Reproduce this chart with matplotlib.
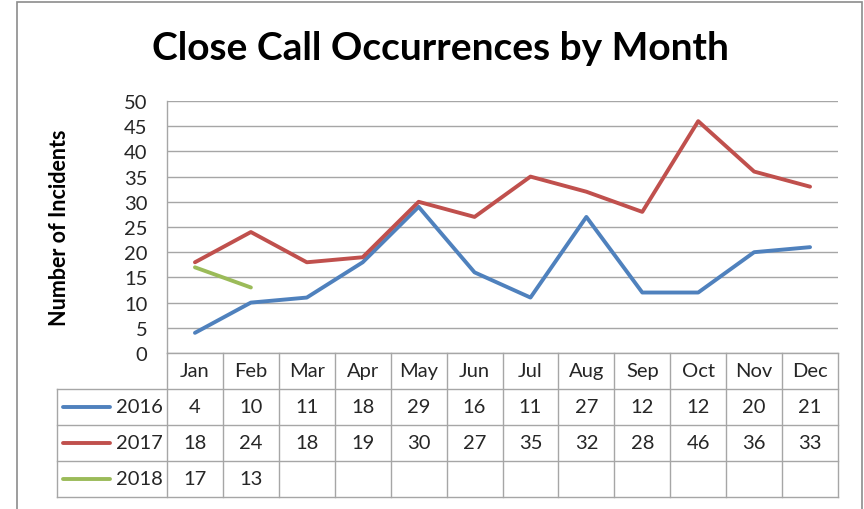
import matplotlib
matplotlib.use("Agg")
import matplotlib.pyplot as plt
import matplotlib.transforms as mtransforms
from matplotlib.patches import Rectangle

plt.rcParams['font.family'] = ['Lato', 'DejaVu Sans']

months = ['Jan', 'Feb', 'Mar', 'Apr', 'May', 'Jun', 'Jul', 'Aug', 'Sep', 'Oct', 'Nov', 'Dec']
years = ['2016', '2017', '2018']
v2016 = [4, 10, 11, 18, 29, 16, 11, 27, 12, 12, 20, 21]
v2017 = [18, 24, 18, 19, 30, 27, 35, 32, 28, 46, 36, 33]
v2018 = [17, 13]
colores = ['#4F81BD', '#C0504D', '#9BBB59']

W, H = 864, 510
fig = plt.figure(figsize=(W / 100, H / 100), dpi=100)

# marco exterior del grafico
fig.patches.append(Rectangle((17 / W, -0.05), (862 - 17) / W, 1.05 - 3 / H,
                             transform=fig.transFigure, fill=False,
                             edgecolor='#8C8C8C', linewidth=1.2))

ax = fig.add_axes([167 / W, 1 - 354 / H, (838 - 167) / W, (354 - 102) / H])

serie = [v2016, v2017, v2018]
for vals, c, y in zip(serie, colores, years):
    ax.plot(range(len(vals)), vals, color=c, linewidth=2.8, label=y,
            solid_capstyle='round', solid_joinstyle='round')

ax.set_xlim(-0.5, 11.5)
ax.set_ylim(0, 50)
ax.set_yticks(range(0, 51, 5))
ax.set_xticks([])
ax.yaxis.grid(True, color='#A6A6A6', linewidth=1)
ax.set_axisbelow(True)
for s in ['top', 'right']:
    ax.spines[s].set_visible(False)
for s in ['left', 'bottom']:
    ax.spines[s].set_color('#A6A6A6')
    ax.spines[s].set_linewidth(1)
ax.tick_params(axis='y', length=0, pad=14, labelsize=14.5, labelcolor='#262626')

ax.set_ylabel('Number of Incidents', fontsize=15.5, fontweight='bold')
ax.yaxis.set_label_coords(-0.1446, 0.5)

fig.text(440 / W, 1 - 48 / H, 'Close Call Occurrences by Month',
         fontsize=28, fontweight='bold', ha='center', va='center')

# tabla de datos bajo el eje
trans = mtransforms.blended_transform_factory(ax.transData, ax.transAxes)
h = 36 / 252
xl = -2.47
lc = '#A6A6A6'
for k in range(13):
    ax.plot([-0.5 + k, -0.5 + k], [0, -4 * h], color=lc, lw=1, transform=trans, clip_on=False)
ax.plot([xl, xl], [-h, -4 * h], color=lc, lw=1, transform=trans, clip_on=False)
for r in range(1, 5):
    ax.plot([xl, 11.5], [-r * h, -r * h], color=lc, lw=1, transform=trans, clip_on=False)

fs = 14.5
for i, m in enumerate(months):
    ax.text(i, -0.5 * h, m, transform=trans, ha='center', va='center',
            fontsize=fs, color='#262626')

for r, (vals, c, y) in enumerate(zip(serie, colores, years)):
    yc = -(r + 1.5) * h
    ax.plot([-2.36, -1.52], [yc, yc], color=c, lw=2.8, transform=trans,
            clip_on=False, solid_capstyle='round')
    ax.text(-0.57, yc, y, transform=trans, ha='right', va='center',
            fontsize=fs, color='#262626')
    for i, v in enumerate(vals):
        ax.text(i, yc, str(v), transform=trans, ha='center', va='center',
                fontsize=fs, color='#262626')

fig.savefig('out.png', dpi=100)
